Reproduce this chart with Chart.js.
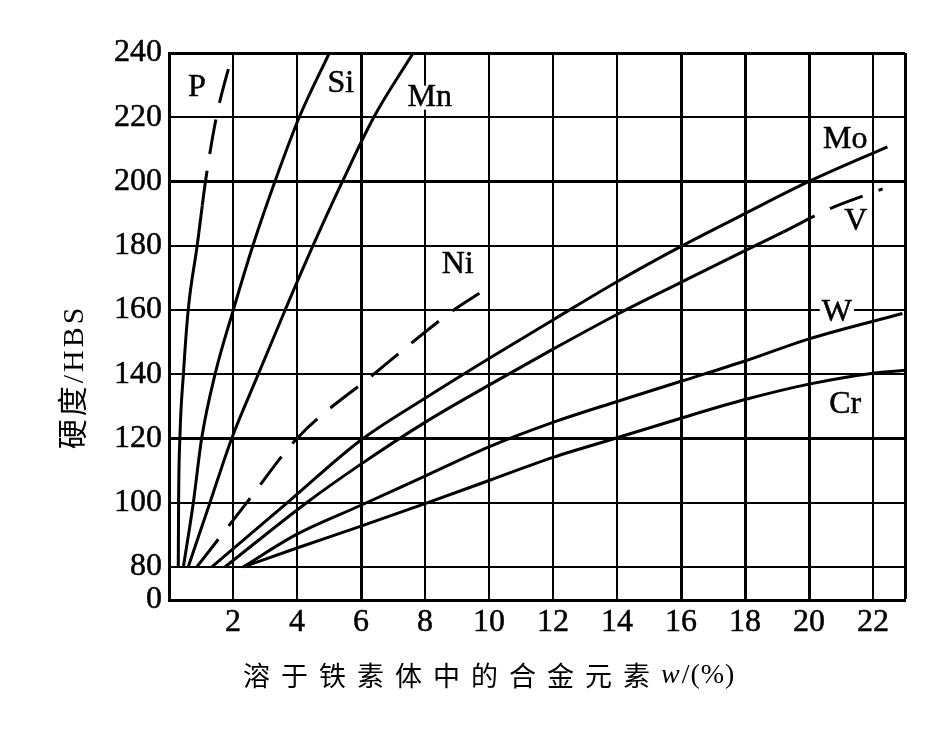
<!DOCTYPE html>
<html>
<head>
<meta charset="utf-8">
<script src="https://cdn.jsdelivr.net/npm/chart.js@4"></script>
<style>
  html, body { margin: 0; padding: 0; background: #fff; }
  #wrap { width: 947px; height: 730px; }
</style>
</head>
<body>
<div id="wrap"><canvas id="hardness" width="947" height="730"></canvas></div>
<script>
// ferrite hardness vs. dissolved alloying element

const SERIF = '"Liberation Serif", "Times New Roman", "Noto Sans CJK SC", serif';
const CJK = '"Noto Sans CJK SC", sans-serif';

// y axis is broken: its foot is labelled "0", then it jumps to 80
const yFloor = 69.7;
const yTickValues = [yFloor, 80, 100, 120, 140, 160, 180, 200, 220, 240];
const yTickLabels = ["0", "80", "100", "120", "140", "160", "180", "200", "220", "240"];
const xTickValues = [2, 4, 6, 8, 10, 12, 14, 16, 18, 20, 22];
const xMax = 23;

const yTitle = "硬度/HBS";
const xTitle = "溶于铁素体中的合金元素";
const xTitleVar = "w";
const xTitleUnit = "/(%)";

// series (x = wt%, y = HBS)
const pX = [0.29, 0.30, 0.34, 0.45, 0.60, 0.88, 1.04, 1.14, 1.48, 1.99];
const pY = [80, 100, 120, 140, 160, 180, 192.5, 200, 220, 240];
const siX = [0.45, 0.76, 1.02, 1.44, 2.01, 2.62, 3.31, 4.07, 5.01];
const siY = [80, 100, 120, 140, 160, 180, 200, 220, 240];
const mnX = [0.60, 1.28, 1.96, 2.79, 3.63, 4.50, 5.42, 6.40, 7.63];
const mnY = [80, 100, 120, 140, 160, 180, 200, 220, 240];
const niX = [0.87, 2.43, 4.00, 6.40, 8.90, 9.70];
const niY = [80, 100, 120, 140, 160, 165.2];
const moX = [1.34, 3.70, 6.0, 8.0, 10.0, 12.0, 14.0, 16.0, 18.0, 20.0, 22.45];
const moY = [80, 100, 119.5, 132.5, 144.9, 156.9, 168.8, 179.8, 190, 200, 210.8];
const vX = [1.75, 4.3, 6.0, 8.0, 10.0, 12.0, 14.0, 16.0, 18.0, 19.2, 20.6, 22.3];
const vY = [80, 100, 112, 125, 136.6, 147.8, 158.6, 168.6, 178.5, 184.3, 191.3, 197.7];
const wX = [2.32, 4.0, 6.0, 8.0, 10.0, 12.0, 14.0, 16.0, 18.0, 20.0, 22.92];
const wY = [80, 90.2, 99.2, 108.3, 117.4, 125, 131.5, 137.8, 144.1, 151, 158.9];
const crX = [2.32, 4.0, 6.0, 8.0, 10.0, 12.0, 14.0, 16.0, 18.0, 20.0, 22.0, 23.0];
const crY = [80, 85.9, 92.7, 99.7, 106.9, 114.1, 120.2, 126.3, 132.1, 136.9, 140.3, 141.2];

// curve names and where they are written (data units)
const curveNames = ["P", "Si", "Mn", "Ni", "Mo", "V", "W", "Cr"];
const labelX = [0.87, 5.37, 8.15, 9.02, 21.13, 21.46, 20.87, 21.13];
const labelY = [229.3, 230.4, 226.1, 174.0, 212.9, 187.5, 159.1, 130.4];

const dash = [35, 17];
const pts = (xs, ys) => xs.map((x, i) => ({ x, y: ys[i] }));

function curve(label, xs, ys, extra = {}) {
  return Object.assign({
    label,
    data: pts(xs, ys),
    borderColor: "#000",
    borderWidth: 3,
    pointRadius: 0,
    cubicInterpolationMode: "monotone",
    fill: false,
  }, extra);
}

const thickX = [6, 16, 18, 20, xMax];
const thickY = [120, 200, 240];
const textStroke = 0.5;

const labelPlugin = {
  id: "curveLabels",
  beforeDatasetsDraw(chart) {
    // knock the grid out behind the names, like the printed figure
    const { ctx, scales: { x, y } } = chart;
    ctx.save();
    ctx.font = `32px ${SERIF}`;
    ctx.fillStyle = "#fff";
    curveNames.forEach((n, i) => {
      const w = ctx.measureText(n).width;
      const cx = x.getPixelForValue(labelX[i]);
      const cy = y.getPixelForValue(labelY[i]);
      ctx.fillRect(cx - w / 2 - 2, cy - 12, w + 4, 24);
    });
    ctx.restore();
  },
  afterDatasetsDraw(chart) {
    const { ctx, scales: { x, y } } = chart;
    ctx.save();
    ctx.fillStyle = "#000";
    ctx.strokeStyle = "#000";
    ctx.lineWidth = textStroke;
    ctx.font = `32px ${SERIF}`;
    ctx.textAlign = "center";
    ctx.textBaseline = "middle";
    curveNames.forEach((n, i) => {
      const px = x.getPixelForValue(labelX[i]);
      const py = y.getPixelForValue(labelY[i]);
      ctx.strokeText(n, px, py);
      ctx.fillText(n, px, py);
    });
    ctx.restore();
  },
  afterDraw(chart) {
    const { ctx } = chart;
    ctx.save();
    ctx.fillStyle = "#000";
    ctx.textBaseline = "middle";

    // x title
    ctx.textAlign = "left";
    let cx = 243;
    ctx.font = `27px ${CJK}`;
    ctx.letterSpacing = "11px";
    ctx.fillText(xTitle, cx, 676);
    cx += ctx.measureText(xTitle).width;
    ctx.letterSpacing = "1px";
    ctx.font = `italic 28px ${SERIF}`;
    ctx.fillText(xTitleVar, cx, 676);
    cx += ctx.measureText(xTitleVar).width + 1;
    ctx.font = `28px ${SERIF}`;
    ctx.fillText(xTitleUnit, cx, 676);

    // y title
    ctx.translate(75, 377);
    ctx.rotate(-Math.PI / 2);
    ctx.textAlign = "center";
    ctx.letterSpacing = "3px";
    ctx.font = `30px ${SERIF}`;
    ctx.fillText(yTitle, 0, 0);
    ctx.restore();
  },
};

new Chart(document.getElementById("hardness"), {
  type: "line",
  data: {
    datasets: [
      curve("P", pX, pY, {
        segment: { borderDash: (c) => (c.p0.parsed.y >= 192 ? dash : undefined) },
      }),
      curve("Si", siX, siY),
      curve("Mn", mnX, mnY),
      curve("Ni", niX, niY, { borderDash: dash }),
      curve("Mo", moX, moY),
      curve("V", vX, vY, {
        segment: { borderDash: (c) => (c.p0.parsed.x >= 19.1 ? dash : undefined) },
      }),
      curve("W", wX, wY),
      curve("Cr", crX, crY),
    ],
  },
  options: {
    responsive: false,
    animation: false,
    devicePixelRatio: 1,
    layout: { padding: { top: 53, right: 42, left: 0, bottom: 0 } },
    plugins: { legend: { display: false }, tooltip: { enabled: false } },
    scales: {
      x: {
        type: "linear",
        min: 0,
        max: xMax,
        afterBuildTicks: (s) => { s.ticks = xTickValues.concat([xMax]).map((v) => ({ value: v })); },
        afterFit: (s) => { s.height = 130; },
        ticks: {
          autoSkip: false,
          maxRotation: 0,
          padding: 3,
          color: "#000",
          textStrokeColor: "#000",
          textStrokeWidth: textStroke,
          font: { family: SERIF, size: 32 },
          callback: (v) => (v === xMax ? "" : String(v)),
        },
        grid: {
          color: "#000",
          drawTicks: false,
          lineWidth: (c) => (thickX.includes(c.tick && c.tick.value) ? 3 : 2),
        },
        border: { color: "#000", width: 3 },
      },
      y: {
        type: "linear",
        min: yFloor,
        max: 240,
        afterBuildTicks: (s) => { s.ticks = yTickValues.map((v) => ({ value: v })); },
        afterFit: (s) => { s.width = 169; },
        ticks: {
          autoSkip: false,
          padding: 7,
          color: "#000",
          textStrokeColor: "#000",
          textStrokeWidth: textStroke,
          font: { family: SERIF, size: 32 },
          callback: (v, i) => yTickLabels[i],
        },
        grid: {
          color: "#000",
          drawTicks: false,
          lineWidth: (c) => (thickY.includes(c.tick && c.tick.value) ? 3 : 2),
        },
        border: { color: "#000", width: 3 },
      },
    },
  },
  plugins: [labelPlugin],
});
</script>
</body>
</html>
